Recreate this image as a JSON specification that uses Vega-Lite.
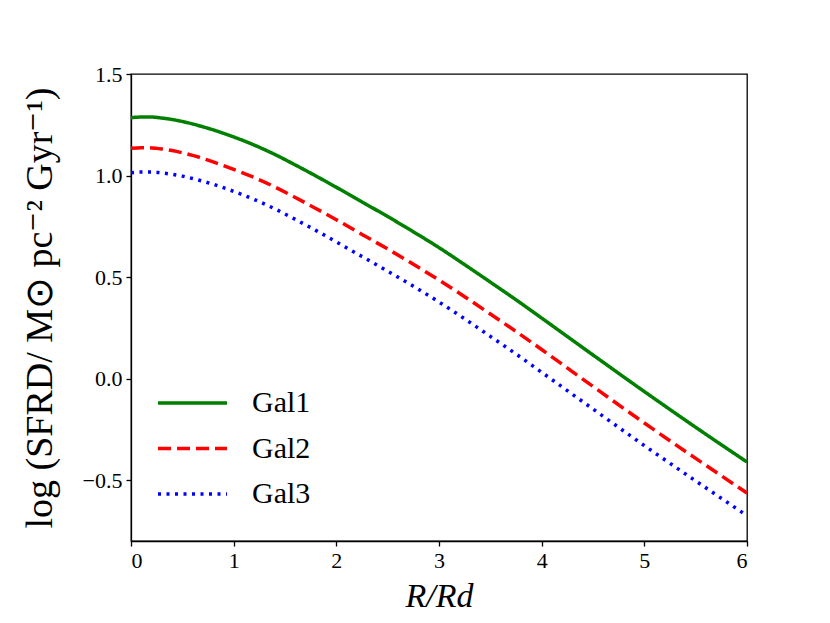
{
  "$schema": "https://vega.github.io/schema/vega-lite/v6.json",
  "autosize": "none",
  "width": 616,
  "height": 467,
  "padding": {"left": 131, "top": 74, "right": 83, "bottom": 82},
  "background": "white",
  "data": {
    "values": [
      {"r": 0, "sfrd": 1.285, "gal": "Gal1"},
      {"r": 0.1, "sfrd": 1.288, "gal": "Gal1"},
      {"r": 0.2, "sfrd": 1.288, "gal": "Gal1"},
      {"r": 0.3, "sfrd": 1.283, "gal": "Gal1"},
      {"r": 0.4, "sfrd": 1.276, "gal": "Gal1"},
      {"r": 0.5, "sfrd": 1.266, "gal": "Gal1"},
      {"r": 0.6, "sfrd": 1.254, "gal": "Gal1"},
      {"r": 0.7, "sfrd": 1.240, "gal": "Gal1"},
      {"r": 0.8, "sfrd": 1.225, "gal": "Gal1"},
      {"r": 0.9, "sfrd": 1.208, "gal": "Gal1"},
      {"r": 1.0, "sfrd": 1.190, "gal": "Gal1"},
      {"r": 1.2, "sfrd": 1.150, "gal": "Gal1"},
      {"r": 1.4, "sfrd": 1.104, "gal": "Gal1"},
      {"r": 1.6, "sfrd": 1.052, "gal": "Gal1"},
      {"r": 1.8, "sfrd": 0.998, "gal": "Gal1"},
      {"r": 2.0, "sfrd": 0.942, "gal": "Gal1"},
      {"r": 2.25, "sfrd": 0.870, "gal": "Gal1"},
      {"r": 2.5, "sfrd": 0.798, "gal": "Gal1"},
      {"r": 2.75, "sfrd": 0.723, "gal": "Gal1"},
      {"r": 3.0, "sfrd": 0.645, "gal": "Gal1"},
      {"r": 3.25, "sfrd": 0.561, "gal": "Gal1"},
      {"r": 3.5, "sfrd": 0.475, "gal": "Gal1"},
      {"r": 3.75, "sfrd": 0.388, "gal": "Gal1"},
      {"r": 4.0, "sfrd": 0.298, "gal": "Gal1"},
      {"r": 4.5, "sfrd": 0.116, "gal": "Gal1"},
      {"r": 5.0, "sfrd": -0.064, "gal": "Gal1"},
      {"r": 5.5, "sfrd": -0.240, "gal": "Gal1"},
      {"r": 6.0, "sfrd": -0.411, "gal": "Gal1"},
      {"r": 0, "sfrd": 1.134, "gal": "Gal2"},
      {"r": 0.1, "sfrd": 1.137, "gal": "Gal2"},
      {"r": 0.2, "sfrd": 1.136, "gal": "Gal2"},
      {"r": 0.3, "sfrd": 1.131, "gal": "Gal2"},
      {"r": 0.4, "sfrd": 1.123, "gal": "Gal2"},
      {"r": 0.5, "sfrd": 1.112, "gal": "Gal2"},
      {"r": 0.6, "sfrd": 1.099, "gal": "Gal2"},
      {"r": 0.7, "sfrd": 1.084, "gal": "Gal2"},
      {"r": 0.8, "sfrd": 1.067, "gal": "Gal2"},
      {"r": 0.9, "sfrd": 1.049, "gal": "Gal2"},
      {"r": 1.0, "sfrd": 1.030, "gal": "Gal2"},
      {"r": 1.2, "sfrd": 0.990, "gal": "Gal2"},
      {"r": 1.4, "sfrd": 0.944, "gal": "Gal2"},
      {"r": 1.6, "sfrd": 0.892, "gal": "Gal2"},
      {"r": 1.8, "sfrd": 0.838, "gal": "Gal2"},
      {"r": 2.0, "sfrd": 0.782, "gal": "Gal2"},
      {"r": 2.25, "sfrd": 0.710, "gal": "Gal2"},
      {"r": 2.5, "sfrd": 0.638, "gal": "Gal2"},
      {"r": 2.75, "sfrd": 0.563, "gal": "Gal2"},
      {"r": 3.0, "sfrd": 0.485, "gal": "Gal2"},
      {"r": 3.25, "sfrd": 0.403, "gal": "Gal2"},
      {"r": 3.5, "sfrd": 0.318, "gal": "Gal2"},
      {"r": 3.75, "sfrd": 0.232, "gal": "Gal2"},
      {"r": 4.0, "sfrd": 0.143, "gal": "Gal2"},
      {"r": 4.5, "sfrd": -0.039, "gal": "Gal2"},
      {"r": 5.0, "sfrd": -0.219, "gal": "Gal2"},
      {"r": 5.5, "sfrd": -0.393, "gal": "Gal2"},
      {"r": 6.0, "sfrd": -0.564, "gal": "Gal2"},
      {"r": 0, "sfrd": 1.014, "gal": "Gal3"},
      {"r": 0.1, "sfrd": 1.017, "gal": "Gal3"},
      {"r": 0.2, "sfrd": 1.017, "gal": "Gal3"},
      {"r": 0.3, "sfrd": 1.013, "gal": "Gal3"},
      {"r": 0.4, "sfrd": 1.006, "gal": "Gal3"},
      {"r": 0.5, "sfrd": 0.997, "gal": "Gal3"},
      {"r": 0.6, "sfrd": 0.985, "gal": "Gal3"},
      {"r": 0.7, "sfrd": 0.972, "gal": "Gal3"},
      {"r": 0.8, "sfrd": 0.957, "gal": "Gal3"},
      {"r": 0.9, "sfrd": 0.940, "gal": "Gal3"},
      {"r": 1.0, "sfrd": 0.922, "gal": "Gal3"},
      {"r": 1.2, "sfrd": 0.882, "gal": "Gal3"},
      {"r": 1.4, "sfrd": 0.836, "gal": "Gal3"},
      {"r": 1.6, "sfrd": 0.784, "gal": "Gal3"},
      {"r": 1.8, "sfrd": 0.730, "gal": "Gal3"},
      {"r": 2.0, "sfrd": 0.673, "gal": "Gal3"},
      {"r": 2.25, "sfrd": 0.601, "gal": "Gal3"},
      {"r": 2.5, "sfrd": 0.529, "gal": "Gal3"},
      {"r": 2.75, "sfrd": 0.455, "gal": "Gal3"},
      {"r": 3.0, "sfrd": 0.377, "gal": "Gal3"},
      {"r": 3.25, "sfrd": 0.294, "gal": "Gal3"},
      {"r": 3.5, "sfrd": 0.208, "gal": "Gal3"},
      {"r": 3.75, "sfrd": 0.121, "gal": "Gal3"},
      {"r": 4.0, "sfrd": 0.031, "gal": "Gal3"},
      {"r": 4.5, "sfrd": -0.150, "gal": "Gal3"},
      {"r": 5.0, "sfrd": -0.330, "gal": "Gal3"},
      {"r": 5.5, "sfrd": -0.504, "gal": "Gal3"},
      {"r": 6.0, "sfrd": -0.675, "gal": "Gal3"}
    ]
  },
  "mark": {"type": "line", "strokeWidth": 3.5, "interpolate": "monotone", "strokeCap": "butt"},
  "encoding": {
    "x": {
      "field": "r",
      "type": "quantitative",
      "title": "R/Rd",
      "scale": {"domain": [0, 6], "nice": false, "zero": false},
      "axis": {
        "values": [0, 1, 2, 3, 4, 5, 6],
        "format": "d",
        "titleFontStyle": "italic",
        "titleFontSize": 34,
        "titlePadding": 8
      }
    },
    "y": {
      "field": "sfrd",
      "type": "quantitative",
      "title": "log (SFRD/ M⊙ pc⁻² Gyr⁻¹)",
      "scale": {"domain": [-0.8, 1.5], "nice": false, "zero": false},
      "axis": {
        "values": [-0.5, 0, 0.5, 1.0, 1.5],
        "format": ".1f",
        "titleFontSize": 38,
        "titlePadding": 23
      }
    },
    "color": {
      "field": "gal",
      "type": "nominal",
      "scale": {"domain": ["Gal1", "Gal2", "Gal3"], "range": ["#008000", "#ff0000", "#0000ff"]},
      "legend": {
        "title": null,
        "orient": "none",
        "legendX": 25,
        "legendY": 314,
        "symbolType": "stroke",
        "symbolSize": 4761,
        "symbolStrokeWidth": 3.5,
        "clipHeight": 30,
        "rowPadding": 15.5,
        "labelOffset": 23,
        "labelFont": "Liberation Serif",
        "labelFontSize": 30,
        "labelColor": "black"
      }
    },
    "strokeDash": {
      "field": "gal",
      "type": "nominal",
      "scale": {"domain": ["Gal1", "Gal2", "Gal3"], "range": [[1, 0], [13, 6], [3, 5.5]]},
      "legend": {
        "title": null,
        "orient": "none",
        "legendX": 25,
        "legendY": 314,
        "symbolType": "stroke",
        "symbolSize": 4761,
        "symbolStrokeWidth": 3.5,
        "clipHeight": 30,
        "rowPadding": 15.5,
        "labelOffset": 23,
        "labelFont": "Liberation Serif",
        "labelFontSize": 30,
        "labelColor": "black"
      }
    }
  },
  "config": {
    "view": {"stroke": "black", "strokeWidth": 1.3},
    "axis": {
      "grid": false,
      "domainColor": "black",
      "domainWidth": 1.3,
      "tickColor": "black",
      "tickWidth": 1.3,
      "tickSize": 5,
      "labelFont": "Liberation Serif",
      "labelFontSize": 22,
      "labelColor": "black",
      "labelPadding": 4,
      "titleFont": "Liberation Serif",
      "titleFontWeight": "normal",
      "titleColor": "black"
    },
    "legend": {"padding": 0}
  }
}
